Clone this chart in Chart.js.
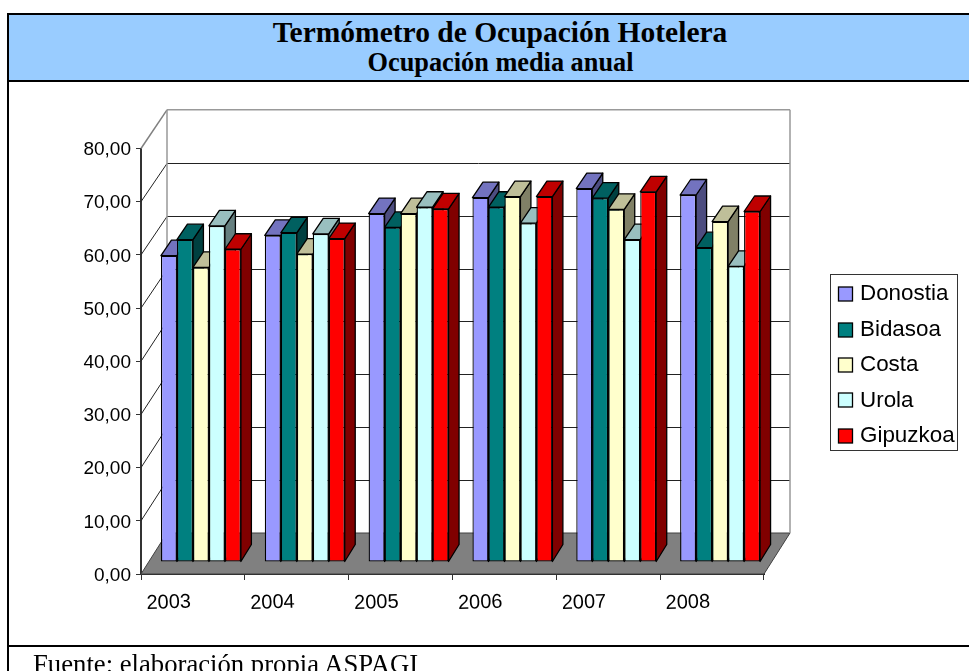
<!DOCTYPE html>
<html><head><meta charset="utf-8">
<style>
html,body{margin:0;padding:0;background:#fff;overflow:hidden}
#page{position:relative;width:969px;height:671px;overflow:hidden}
#band{position:absolute;left:7px;top:13px;width:962px;height:65px;background:#99CCFF;border:2px solid #000;box-sizing:content-box;border-right:none;font-family:"Liberation Serif",serif;font-weight:bold;color:#000}
#t1,#t2{position:absolute;left:0;text-align:center;white-space:nowrap}
#t1{width:982px;top:0px;font-size:29.5px;line-height:34px}
#t2{width:983px;top:34px;font-size:26.3px;line-height:28px}
#lf{position:absolute;left:7px;top:80px;width:2px;height:591px;background:#000}
#bl{position:absolute;left:7px;top:645px;width:962px;height:2px;background:#000}
#foot{position:absolute;left:33px;top:649px;font-family:"Liberation Serif",serif;font-size:26.7px;line-height:30px;color:#000;white-space:nowrap}
canvas{position:absolute;left:0;top:0}
</style></head><body>
<div id="page">
<canvas id="c" width="969" height="671"></canvas>
<div id="band"><div id="t1">Termómetro de Ocupación Hotelera</div><div id="t2">Ocupación media anual</div></div>
<div id="lf"></div><div id="bl"></div>
<div id="foot">Fuente: elaboración propia ASPAGI</div>
</div>
<script src="https://cdn.jsdelivr.net/npm/chart.js@4"></script>
<script>
const years=["2003","2004","2005","2006","2007","2008"];
const donostia=[57.6,61.4,65.5,68.5,70.2,69.0];
const bidasoa=[60.6,61.9,62.9,66.7,68.4,59.1];
const costa=[55.4,57.9,65.5,68.7,66.3,64.0];
const urola=[63.2,61.7,66.7,63.7,60.6,55.6];
const gipuzkoa=[58.8,60.8,66.4,68.7,69.6,65.9];
const seriesNames=["Donostia","Bidasoa","Costa","Urola","Gipuzkoa"];
const seriesColors=["#9999FF","#008080","#FFFFCC","#CCFFFF","#FF0000"];
const yTicks=[0,10,20,30,40,50,60,70,80];

const WALL_DX=26, WALL_DY=-41, WALL_SCALE=0.9945, BAR_DX=8, BAR_DY=-12, SIDE_DX=10.5, SIDE_DY_BASE=-17, SIDE_DY_TOP=-15.5;

function shade(hex,f){
  const n=parseInt(hex.slice(1),16);
  const c=[n>>16&255,n>>8&255,n&255].map(v=>Math.round(v*f));
  return `rgb(${c[0]},${c[1]},${c[2]})`;
}
function poly(ctx,pts,fill,stroke,w){
  ctx.beginPath();
  pts.forEach((p,i)=>i?ctx.lineTo(p[0],p[1]):ctx.moveTo(p[0],p[1]));
  ctx.closePath();
  if(fill){ctx.fillStyle=fill;ctx.fill();}
  if(stroke){ctx.strokeStyle=stroke;ctx.lineJoin='round';ctx.lineWidth=w||1;ctx.stroke();}
}
function line(ctx,x1,y1,x2,y2,col,w){
  ctx.beginPath();ctx.moveTo(x1,y1);ctx.lineTo(x2,y2);ctx.strokeStyle=col;ctx.lineWidth=w;ctx.stroke();
}
const walls={
  id:'walls',
  beforeDatasetsDraw(chart){
    const {ctx,chartArea:a,scales:{y}}=chart;
    const backY=p=>a.bottom+WALL_DY+(p-a.bottom)*WALL_SCALE;
    ctx.save();
    poly(ctx,[[a.left,a.bottom],[a.right,a.bottom],[a.right+WALL_DX,a.bottom+WALL_DY],[a.left+WALL_DX,a.bottom+WALL_DY]],"#808080","#404040",1);
    yTicks.forEach(v=>{
      const p=y.getPixelForValue(v);
      if(v>0&&v<80){
        const q=Math.round(backY(p))+.5;
        line(ctx,a.left+WALL_DX,q,a.right+WALL_DX,q,"#222",1);
        line(ctx,a.left,p,a.left+WALL_DX,q,"#222",1);
      }
    });
    const top=y.getPixelForValue(80), bt=backY(top);
    line(ctx,a.left,top,a.left+WALL_DX,bt,"#808080",1.5);
    line(ctx,a.left+WALL_DX,bt,a.right+WALL_DX,bt,"#999",1.5);
    line(ctx,a.left+WALL_DX,bt,a.left+WALL_DX,a.bottom+WALL_DY,"#999",1.5);
    line(ctx,a.right+WALL_DX,bt,a.right+WALL_DX,a.bottom+WALL_DY,"#999",1.5);
    // bars, painted left to right so each face covers the side of its left neighbour
    years.forEach((_,i)=>{
      chart.data.datasets.forEach((ds,d)=>{
        const el=chart.getDatasetMeta(d).data[i];
        const col=seriesColors[d];
        const l=el.x-el.width/2+BAR_DX, r=el.x+el.width/2+BAR_DX, t=el.y+BAR_DY, b=el.base+BAR_DY;
        poly(ctx,[[r,t],[r+SIDE_DX,t+SIDE_DY_TOP],[r+SIDE_DX,b+SIDE_DY_BASE],[r,b]],shade(col,.5),"#000",1.3);
        poly(ctx,[[l,t],[l+SIDE_DX,t+SIDE_DY_TOP],[r+SIDE_DX,t+SIDE_DY_TOP],[r,t]],shade(col,.75),"#000",1.3);
        ctx.save();ctx.translate(BAR_DX,BAR_DY);el.draw(ctx);ctx.restore();
      });
    });
    ctx.restore();
  },
  beforeDatasetDraw(){return false;},
  afterLayout(chart){
    const lg=chart.legend;
    lg.left=834.8; lg.right=958; lg.width=lg.right-lg.left;
    lg.top=152.5; lg.bottom=577.5; lg.height=lg.bottom-lg.top;
    lg.adjustHitBoxes();
  },
  afterDraw(chart){
    const {ctx,legend:lg}=chart;
    ctx.save();
    ctx.strokeStyle="#333";ctx.lineWidth=1;
    ctx.strokeRect(830.5,274.5,127,176);
    lg.legendHitBoxes.forEach((hb,i)=>{
      const cy=Math.round(hb.top+hb.height/2);
      ctx.fillStyle=seriesColors[i];
      ctx.fillRect(838.5,cy-7,14,14);
      ctx.strokeStyle="#000";ctx.lineWidth=1.3;
      ctx.strokeRect(838.5,cy-7,14,14);
    });
    ctx.restore();
  }
};
new Chart(document.getElementById('c'),{
  type:'bar',
  plugins:[walls],
  data:{labels:years,datasets:[donostia,bidasoa,costa,urola,gipuzkoa].map((v,i)=>({
    label:seriesNames[i],data:v,backgroundColor:seriesColors[i],borderColor:"#000",borderWidth:1.3,borderSkipped:false,
    categoryPercentage:.77,barPercentage:1
  }))},
  options:{
    responsive:false,animation:false,
    layout:{padding:{top:148.5,right:205,left:0,bottom:0}},
    plugins:{
      title:{display:false},tooltip:{enabled:false},
      legend:{position:'chartArea',align:'center',
        labels:{font:{family:'"Liberation Sans"',size:22.4},color:"#000",boxWidth:1,boxHeight:15,padding:13,
          generateLabels(chart){
            return Chart.defaults.plugins.legend.labels.generateLabels(chart).map(it=>({...it,fillStyle:'transparent',strokeStyle:'transparent',lineWidth:0}));
          }}}
    },
    scales:{
      x:{grid:{drawOnChartArea:false,color:"#333",tickLength:6},border:{color:"#222",width:2},
        afterFit(s){s.height=97;},
        ticks:{color:"#000",font:{family:'"Liberation Sans"',size:20},minRotation:2,maxRotation:2,labelOffset:-2,padding:10}},
      y:{min:0,max:80,afterFit(s){s.width=141;},
        afterBuildTicks(s){s.ticks=yTicks.map(v=>({value:v}));},
        grid:{drawOnChartArea:false,color:"#333",tickLength:5},border:{color:"#333",width:2},
        ticks:{color:"#000",font:{family:'"Liberation Sans"',size:19},padding:5,labelOffset:1.5,
          callback:v=>v.toFixed(2).replace('.',',')}}
    }
  }
});
</script>
</body></html>
